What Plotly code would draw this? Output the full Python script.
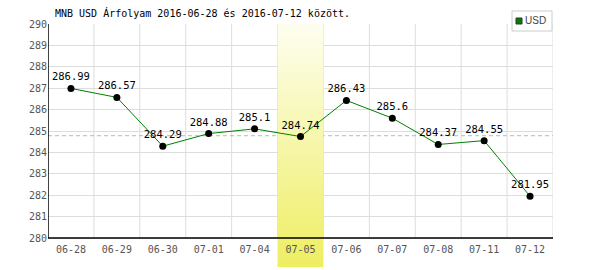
import plotly.graph_objects as go

dates = ["06-28", "06-29", "06-30", "07-01", "07-04", "07-05",
         "07-06", "07-07", "07-08", "07-11", "07-12"]
usd = [286.99, 286.57, 284.29, 284.88, 285.1, 284.74,
       286.43, 285.6, 284.37, 284.55, 281.95]
highlight = "07-05"
ref_level = 284.78
y_ticks = list(range(280, 291))
title = "MNB USD Árfolyam 2016-06-28 és 2016-07-12 között."
series_name = "USD"

W, H = 600, 270
L, R, T, B = 48, 47, 24, 3
axis_px = 238  # pixel row of the x axis line
ymin_v, ymax_v = y_ticks[0], y_ticks[-1]
px_per_unit = (axis_px - T) / (ymax_v - ymin_v)
y_bottom = ymin_v - (H - B - axis_px) / px_per_unit
axis_pos = (H - B - axis_px) / (H - T - B)

idx = list(range(len(dates)))
hi = dates.index(highlight)
mono = "DejaVu Sans Mono"

fig = go.Figure()

# highlight band with vertical gradient
fig.add_trace(go.Scatter(
    x=[hi - 0.5, hi + 0.5, hi + 0.5, hi - 0.5, hi - 0.5],
    y=[y_bottom, y_bottom, ymax_v, ymax_v, y_bottom],
    mode="lines", line=dict(width=0), fill="toself",
    fillgradient=dict(type="vertical",
                      colorscale=[[0, "#eeee62"], [1, "#fefef0"]]),
    hoverinfo="skip", showlegend=False,
))

fig.add_trace(go.Scatter(
    x=idx, y=usd, mode="lines+markers+text",
    line=dict(color="#008000", width=1),
    marker=dict(color="#000000", size=7),
    text=[f"{v:g}" for v in usd], textposition="top center",
    textfont=dict(family=mono, size=10.5, color="#000000"),
    cliponaxis=False, showlegend=False, name=series_name,
))

shapes = []
# vertical grid lines at category boundaries
for i in range(1, len(dates) + 1):
    shapes.append(dict(type="line", xref="x", yref="y", layer="below",
                       x0=i - 0.5, x1=i - 0.5, y0=ymin_v, y1=ymax_v,
                       line=dict(color="#dddddd", width=1)))
# reference dashed line
shapes.append(dict(type="line", xref="x", yref="y", layer="below",
                   x0=-0.5, x1=len(dates) - 0.5, y0=ref_level, y1=ref_level,
                   line=dict(color="#a8c4a8", width=1, dash="4px,3px")))
# axis lines
shapes.append(dict(type="line", xref="x", yref="y",
                   x0=-0.5, x1=-0.5, y0=ymin_v, y1=ymax_v,
                   line=dict(color="#000000", width=1.5)))
shapes.append(dict(type="line", xref="x", yref="y",
                   x0=-0.5, x1=len(dates) - 0.5, y0=ymin_v, y1=ymin_v,
                   line=dict(color="#000000", width=1.5)))
# legend box
shapes.append(dict(type="rect", xref="paper", yref="paper",
                   x0=(512 - L) / (W - L - R), x1=(552 - L) / (W - L - R),
                   y0=(H - B - 31) / (H - T - B), y1=(H - B - 11) / (H - T - B),
                   fillcolor="#ffffff", line=dict(color="#cccccc", width=1),
                   layer="above"))
shapes.append(dict(type="rect", xref="paper", yref="paper",
                   x0=(516 - L) / (W - L - R), x1=(522 - L) / (W - L - R),
                   y0=(H - B - 24) / (H - T - B), y1=(H - B - 18) / (H - T - B),
                   fillcolor="#008000", line=dict(color="#333333", width=1),
                   layer="above"))

annotations = [
    dict(text=title, xref="paper", yref="paper", x=0, xshift=5,
         y=1, yshift=3, xanchor="left", yanchor="bottom", showarrow=False,
         font=dict(family=mono, size=10, color="#000000")),
    dict(text=series_name, xref="paper", yref="paper",
         x=(523 - L) / (W - L - R), y=(H - B - 21) / (H - T - B),
         xanchor="left", yanchor="middle", showarrow=False,
         font=dict(family="Liberation Sans", size=10, color="#444444")),
]

fig.update_layout(
    width=W, height=H,
    margin=dict(l=L, r=R, t=T, b=B, pad=0),
    paper_bgcolor="#ffffff", plot_bgcolor="#ffffff",
    shapes=shapes, annotations=annotations,
    showlegend=False,
    xaxis=dict(range=[-0.5, len(dates) - 0.5], tickvals=idx, ticktext=dates,
               showgrid=False, zeroline=False, showline=False, ticks="",
               anchor="free", position=axis_pos, ticklabelstandoff=4,
               tickfont=dict(family=mono, size=10, color="#555555"),
               fixedrange=True),
    yaxis=dict(range=[y_bottom, ymax_v], tickvals=y_ticks,
               showgrid=True, gridcolor="#dddddd", gridwidth=1,
               zeroline=False, showline=False, ticks="",
               tickfont=dict(family=mono, size=10, color="#555555"),
               fixedrange=True),
)

fig.write_html("out.html")
